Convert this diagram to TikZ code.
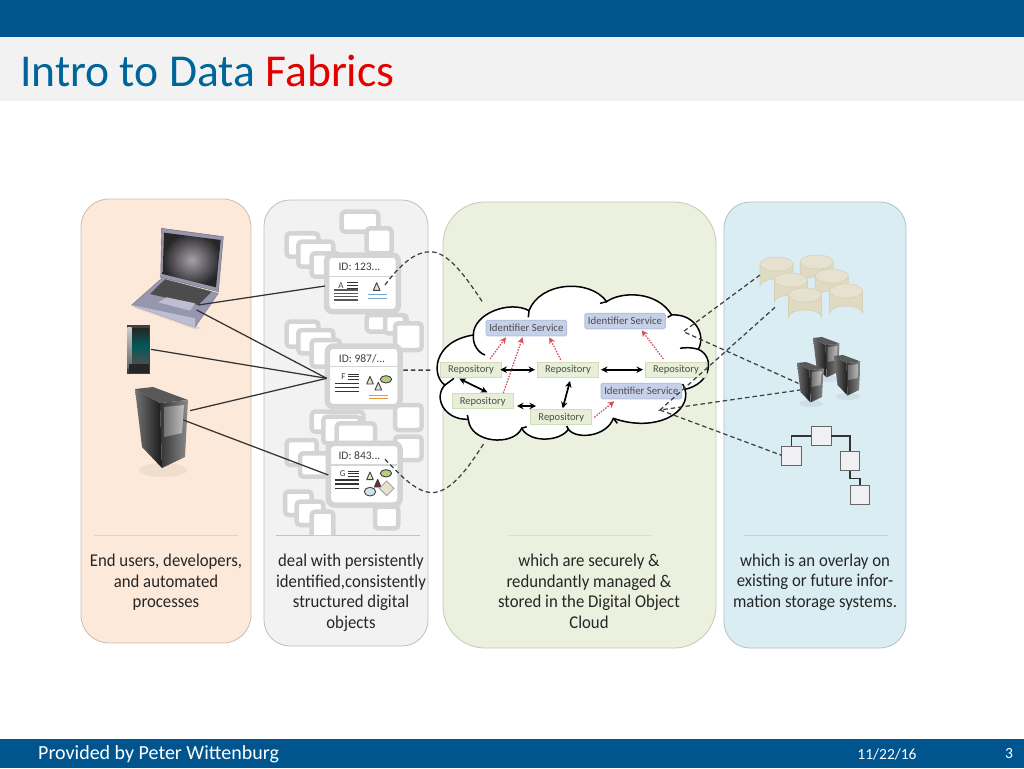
\documentclass[tikz,border=0pt]{standalone}
\usepackage{fontspec}
\setmainfont{Carlito}
\usetikzlibrary{arrows.meta,shapes.geometric}
\definecolor{bar}{HTML}{00558F}
\definecolor{titlebg}{HTML}{F2F2F2}
\definecolor{sqgray}{HTML}{D4D4D4}
\definecolor{repoF}{HTML}{E8EFD8}
\definecolor{repoD}{HTML}{D3DDB8}
\definecolor{idF}{HTML}{C6D0E8}
\definecolor{idD}{HTML}{B3C3DE}
\definecolor{dred}{HTML}{D8505C}
\definecolor{cylF}{HTML}{E0DAC3}
\definecolor{cylT}{HTML}{E7E2CF}
\definecolor{cylD}{HTML}{D6D0B8}
\definecolor{treeF}{HTML}{F0F0F2}
\definecolor{dkred}{RGB}{120,40,50}
\definecolor{ellG}{RGB}{180,205,130}
\definecolor{ellB}{RGB}{210,228,235}
\definecolor{lnB}{RGB}{120,165,210}
\definecolor{lnO}{RGB}{235,150,60}
\definecolor{pOF}{RGB}{252,233,218}
\definecolor{pOD}{RGB}{200,190,178}
\definecolor{pGF}{RGB}{242,242,242}
\definecolor{pGD}{RGB}{190,190,190}
\definecolor{pVF}{RGB}{235,241,222}
\definecolor{pVD}{RGB}{195,203,180}
\definecolor{pBF}{RGB}{218,237,243}
\definecolor{pBD}{RGB}{178,195,200}
\definecolor{sO}{RGB}{247,207,166}
\definecolor{sG}{RGB}{195,195,195}
\definecolor{sV}{RGB}{216,228,188}
\definecolor{sB}{RGB}{170,221,224}
\definecolor{lapBase}{RGB}{150,150,175}
\definecolor{lapLite}{RGB}{190,190,210}
\definecolor{lapScr}{RGB}{105,95,115}
\tikzset{
  panel/.style={rounded corners=#1,line width=0.8pt},
  captxt/.style={font=\fontsize{18}{20.5}\selectfont,align=center,text=black!85,inner sep=0,xscale=0.93},
  sepline/.style={line width=0.8pt},
  z1/.style={shift={(70,190)},x=0.33333pt,y=-0.33333pt},
  z2/.style={shift={(430,270)},x=0.33333pt,y=-0.33333pt},
  z3/.style={shift={(680,230)},x=0.33333pt,y=-0.33333pt},
  sq/.style={draw=sqgray,fill=white,line width=4.5pt,rounded corners=3.5pt},
  docbox/.style={draw=sqgray,fill=white,line width=5.5pt,rounded corners=6pt},
  idtext/.style={font=\fontsize{11.5}{12}\selectfont,text=black!75,inner sep=0,anchor=west},
  repo/.style={draw=repoD,fill=repoF,line width=1pt,minimum width=61pt,minimum height=15pt,inner sep=0,font=\fontsize{10.5}{12}\selectfont,text=black!70},
  idsvc/.style={draw=idD,fill=idF,line width=1pt,rounded corners=1.5pt,minimum width=80.5pt,minimum height=15.5pt,inner sep=0,font=\fontsize{10.8}{12}\selectfont,text=black!70},
  dblarrow/.style={{Stealth[length=6.5pt,width=6.5pt]}-{Stealth[length=6.5pt,width=6.5pt]},line width=1.7pt,black},
  redarrow/.style={-{Stealth[length=6.5pt,width=6.5pt]},dred,line width=1.3pt,dash pattern=on 1.5pt off 1.3pt},
  dashline/.style={dash pattern=on 4.5pt off 3pt,line width=1.25pt,black!75},
  solidline/.style={line width=1.25pt,black!80},
  tritop/.style={draw=black!75,fill=#1,line width=0.9pt,line join=round},
  treebox/.style={draw=black!60,fill=treeF,line width=0.8pt,minimum size=19.5pt,inner sep=0},
  txtline/.style={line width=0.9pt,black!80},
}
\newcommand{\sqr}[4]{\draw[sq] (#1,#2) rectangle (#3,#4);}
\newcommand{\trg}[3]{\draw[tritop=#3] (#1-10,#2+11) -- (#1,#2-12) -- (#1+10,#2+11) -- cycle;}
\newcommand{\cyl}[2]{%
  \draw[draw=cylD,fill=cylF,line width=0.6pt] (#1-16.5,#2) -- (#1-16.5,#2+22) arc[start angle=180,end angle=360,x radius=16.5,y radius=7] -- (#1+16.5,#2) -- cycle;
  \draw[draw=cylD,fill=cylT,line width=0.6pt] (#1,#2) ellipse[x radius=16.5,y radius=7];}
\begin{document}
\begin{tikzpicture}[x=1pt,y=-1pt]
\useasboundingbox (0,0) rectangle (1024,768);
\fill[white] (0,0) rectangle (1024,768);
% slide frame
\fill[bar] (0,0) rectangle (1024,37);
\fill[titlebg] (0,37) rectangle (1024,101);
\fill[bar] (0,739) rectangle (1024,768);
\node[anchor=west,inner sep=0,font=\fontsize{45.6}{48}\selectfont] (title) at (20,71) {\textcolor{bar!90!cyan}{Intro to Data} \textcolor{red!90!black}{Fabrics}};
\node[anchor=west,inner sep=0,text=white,font=\fontsize{20}{22}\selectfont] (foot) at (38,754) {Provided by Peter Wittenburg};
\node[inner sep=0,text=white,font=\fontsize{15.5}{16}\selectfont] (date) at (887,754) {11/22/16};
\node[inner sep=0,text=white,font=\fontsize{15.5}{16}\selectfont] (page) at (1009,754) {3};
% panels
\draw[panel=28pt,fill=pOF,draw=pOD] (81,199) rectangle (251,643);
\draw[panel=26pt,fill=pGF,draw=pGD] (264,200) rectangle (428,646);
\draw[panel=42pt,fill=pVF,draw=pVD] (443,202) rectangle (716,648);
\draw[panel=26pt,fill=pBF,draw=pBD] (724,202) rectangle (906,648);
% separators
\draw[sepline,draw=sO] (94,535) -- (238,535);
\draw[sepline,draw=sG] (276,535) -- (420,535);
\draw[sepline,draw=sV] (508,535) -- (652,535);
\draw[sepline,draw=sB] (744,535) -- (888,535);
% captions
\node[captxt] (c1) at (166,582.5) {End users, developers,\\and automated\\processes};
\node[captxt] (c2) at (351,593) {deal with persistently\\identified,consistently\\structured digital\\objects};
\node[captxt] (c3) at (589,591.5) {which are securely \&\\redundantly managed \&\\stored in the Digital Object\\Cloud};
\node[captxt] (c4) at (815,582) {which is an overlay on\\existing or future infor-\\mation storage systems.};
% digital objects
\begin{scope}[z1]
  \sqr{815}{65}{925}{125}\sqr{890}{115}{965}{190}
  \sqr{650}{130}{745}{200}\sqr{685}{155}{790}{230}\sqr{725}{190}{810}{260}
  \sqr{890}{375}{1010}{425}\sqr{945}{375}{1005}{430}\sqr{975}{400}{1055}{480}
  \sqr{650}{395}{745}{470}\sqr{685}{420}{790}{490}\sqr{725}{450}{810}{530}
  \sqr{725}{665}{880}{725}\sqr{760}{680}{870}{760}\sqr{800}{700}{915}{780}
  \sqr{975}{645}{1055}{720}\sqr{975}{740}{1055}{810}
  \sqr{650}{750}{740}{825}\sqr{690}{790}{790}{860}
  \sqr{645}{905}{725}{975}\sqr{680}{935}{760}{1005}
  \path[sq] (725,1035) -- (725,965) -- (790,965) -- (790,1035);
  \path[sq] (915,1015) -- (915,950) -- (985,950) -- (985,1015) -- cycle;
  % doc A
  \draw[docbox] (770,195) rectangle (985,365);
  \draw[sqgray,line width=1.2pt] (778,260) -- (977,260);
  \node[idtext] (idA) at (805,230) {ID: 123...};
  \node[inner sep=0,font=\fontsize{9}{10}\selectfont,text=black!75] (lA) at (813,288) {A};
  \foreach \yy in {278,286,294}{\draw[txtline] (832,\yy) -- (865,\yy);}
  \foreach \yy in {300,310,320,330}{\draw[txtline,line width=1.1pt,black!65] (793,\yy) -- (865,\yy);}
  \trg{920}{290}{cylT}
  \draw[line width=0.9pt,lnB] (893,312) -- (950,312) (893,325) -- (950,325);
  % doc F
  \draw[docbox] (772,468) rectangle (990,650);
  \draw[sqgray,line width=1.2pt] (780,530) -- (982,530);
  \node[idtext] (idF) at (806,507) {ID: 987/...};
  \node[inner sep=0,font=\fontsize{9}{10}\selectfont,text=black!75] (lF) at (820,560) {F};
  \foreach \yy in {552,560,568}{\draw[txtline] (835,\yy) -- (868,\yy);}
  \foreach \yy in {580,592,604}{\draw[txtline,line width=1.1pt] (795,\yy) -- (868,\yy);}
  \trg{900}{571}{cylT}\trg{925}{589}{cylT}
  \draw[draw=black!75,fill=ellG,line width=0.9pt] (948,568) ellipse[x radius=17,y radius=11];
  \draw[line width=0.9pt,lnO] (897,615) -- (953,615) (897,625) -- (953,625);
  % doc G
  \draw[docbox] (775,760) rectangle (990,945);
  \draw[sqgray,line width=1.2pt] (783,825) -- (982,825);
  \node[idtext] (idG) at (805,797) {ID: 843...};
  \node[inner sep=0,font=\fontsize{9}{10}\selectfont,text=black!75] (lG) at (818,850) {G};
  \foreach \yy in {843,851,859}{\draw[txtline] (834,\yy) -- (866,\yy);}
  \foreach \yy in {870,882,895}{\draw[txtline,line width=1.1pt] (795,\yy) -- (868,\yy);}
  \trg{900}{858}{cylT}\trg{923}{880}{dkred}
  \draw[draw=black!75,fill=ellG,line width=0.9pt] (948,850) ellipse[x radius=17,y radius=11];
  \draw[draw=black!75,fill=ellB,line width=0.9pt] (900,905) ellipse[x radius=17,y radius=13];
  \draw[draw=black!40,fill=cylT,line width=0.8pt] (950,873) -- (972,895) -- (950,917) -- (928,895) -- cycle;
  % named connector ends on documents
  \coordinate (inA) at (765,288);
  \coordinate (inF) at (770,565);
  \coordinate (inG) at (775,855);
  \coordinate (outA) at (945,285);
  \coordinate (outF) at (1000,540);
  \coordinate (outG) at (945,808);
\end{scope}
% laptop
\begin{scope}[z1]
  \fill[lapBase,opacity=0.25] (190,352) -- (375,418) -- (395,415) -- (260,345) -- cycle;
  \draw[draw=black!50,line join=round,fill=lapBase,line width=0.4pt] (185,345) -- (275,265) -- (445,310) -- (375,412) -- cycle;
  \fill[lapLite] (185,345) -- (375,385) -- (375,412) -- cycle;
  \fill[black!70] (240,312) -- (285,268) -- (425,305) -- (385,345) -- cycle;
  \fill[lapLite] (265,337) -- (290,322) -- (375,340) -- (360,362) -- cycle;
  \draw[draw=black!60,fill=lapBase] (275,115) -- (460,140) -- (445,305) -- (272,262) -- cycle;
  \shade[inner color=lapScr!60!white,outer color=black!85] (282,128) -- (452,150) -- (438,292) -- (278,252) -- cycle;
  % phone
  \fill[black!75] (170,405) rectangle (241,553);
  \shade[top color=black!85,bottom color=black!70,middle color=cyan!35!black] (183,415) rectangle (237,520);
  \shade[top color=black!20,bottom color=black!60] (172,412) rectangle (185,535);
  \fill[black!85] (177,522) rectangle (237,548);
  \coordinate (lapA) at (385,345);
  \coordinate (lapB) at (380,360);
  \coordinate (phone) at (243,478);
  \coordinate (towA) at (360,662);
  \coordinate (towB) at (340,690);
\end{scope}
% tower and servers
\foreach \ox/\oy/\sc in {135/387/1, 813/337/0.5, 834/355/0.5, 797/362/0.5}{
  \begin{scope}[shift={(\ox,\oy)},x=\sc pt,y=-\sc pt]
    \fill[black,opacity=0.05] (28,83) ellipse[x radius=24,y radius=7];
    \shade[left color=black!55,right color=black!90] (0,2) -- (25,16) -- (27,81) -- (7,60) -- cycle;
    \fill[black!65] (0,2) -- (18,0) -- (53,13) -- (25,16) -- cycle;
    \shade[left color=black!80,right color=black!45] (25,16) -- (53,13) -- (50,70) -- (27,81) -- cycle;
    \shade[left color=black!55,right color=black!25] (29,20) -- (49,18) -- (47,46) -- (29,50) -- cycle;
  \end{scope}
}
% connectors on the left
\draw[solidline] (lapA) -- (inA);
\draw[solidline] (lapB) -- (inF);
\draw[solidline] (phone) -- (inF);
\draw[solidline] (towA) -- (inF);
\draw[solidline] (towB) -- (inG);
% cloud
\begin{scope}[z2]
  \draw[fill=white,line width=1.5pt,draw=black] (45,345) .. controls (5,320) and (5,215) .. (130,195)
   .. controls (130,130) and (240,90) .. (297,122)
   .. controls (330,35) and (480,25) .. (530,95)
   .. controls (570,65) and (680,60) .. (725,135)
   .. controls (790,130) and (830,190) .. (805,238)
   .. controls (855,260) and (845,340) .. (765,358)
   .. controls (785,425) and (680,490) .. (550,445)
   .. controls (530,500) and (440,510) .. (415,478)
   .. controls (390,515) and (300,520) .. (275,475)
   .. controls (250,530) and (120,520) .. (115,448)
   .. controls (40,450) and (10,380) .. (45,345) -- cycle;
  \draw[line width=1.5pt,draw=black] (130,195) .. controls (128,225) and (145,248) .. (165,255)
    (297,122) -- (295,142) (530,95) -- (510,100) (725,135) -- (713,142)
    (805,238) .. controls (785,232) and (765,232) .. (750,235)
    (765,358) -- (758,342) (550,445) -- (562,460) (415,478) -- (410,468)
    (275,475) -- (290,470) (115,448) -- (112,435) (45,345) -- (72,325);
  \node[repo] (R1) at (123,299) {Repository};
  \node[repo] (R2) at (414,299) {Repository};
  \node[repo] (R3) at (738,299) {Repository};
  \node[repo] (R4) at (158,394) {Repository};
  \node[repo] (R5) at (394,442) {Repository};
  \node[idsvc] (I1) at (289,174) {Identifier Service};
  \node[idsvc] (I2) at (585,153) {Identifier Service};
  \node[idsvc] (I3) at (634,363) {Identifier Service};
  \draw[dblarrow] (R1.east) ++(-5,0) -- ([xshift=-2pt]R2.west);
  \draw[dblarrow] ([xshift=2pt]R2.east) -- ([xshift=-2pt]R3.west);
  \draw[dblarrow] ([shift={(-35,3)}]R1.south) -- ([shift={(14,-3)}]R4.north);
  \draw[dblarrow] ([shift={(10,14)}]R4.east) -- ([shift={(17,-34)}]R5.west);
  \draw[dblarrow] ([shift={(6,10)}]R2.south) -- ([shift={(4,-3)}]R5.north);
  \draw[redarrow] ([shift={(57,-8)}]R1.north) -- ([shift={(-61,3)}]I1.south);
  \draw[redarrow] ([shift={(62,-1)}]R4.north) -- ([shift={(-11,3)}]I1.south);
  \draw[redarrow] ([shift={(-22,-6)}]R2.north) -- ([shift={(69,3)}]I1.south);
  \draw[redarrow] ([shift={(-38,-8)}]R3.north) -- ([shift={(50,3)}]I2.south);
  \draw[redarrow] ([xshift=2pt]R5.east) -- ([shift={(-81,6)}]I3.south);
  \coordinate (cloudA) at (160,100);
  \coordinate (cloudF) at (5,300);
  \coordinate (cloudG) at (165,515);
\end{scope}
% storage
\begin{scope}
  \cyl{776.5}{264}\cyl{816.7}{262}\cyl{791}{280}\cyl{831.7}{276}\cyl{805}{295}\cyl{846}{291}
\end{scope}
\begin{scope}[z3]
  \node[treebox] (T1) at (424,618) {};
  \node[treebox] (T2) at (334,677) {};
  \node[treebox] (T3) at (510,692) {};
  \node[treebox] (T4) at (540,795) {};
  \draw[line width=1.1pt,black!80] (T1.west) -| (T2.north);
  \draw[line width=1.1pt,black!80] (T1.east) -| (T3.north);
  \draw[line width=1.1pt,black!80] (T3.south) |- (525,745) -| (T4.north);
  \coordinate (cylL) at (240,135);
  \coordinate (cylB) at (285,232);
  \coordinate (srvA) at (355,460);
  \coordinate (srvB) at (360,480);
  \coordinate (treeIn) at (305,676);
  \coordinate (hubA) at (10,305);
\end{scope}
\begin{scope}[z2]
  \coordinate (hubB) at (690,420);
\end{scope}
% dashed connectors
\draw[dashline] (outA) .. controls (402,262) and (418,250) .. (433,252) .. controls (450,254) and (468,280) .. (cloudA);
\draw[dashline,line width=1.5pt] (outF) -- (cloudF);
\draw[dashline] (outG) .. controls (403,478) and (420,496) .. (437,492) .. controls (455,488) and (472,462) .. (cloudG);
\draw[dashline] (cylL) -- (hubA) -- (srvA);
\draw[dashline] (cylB) -- (hubB) -- (srvB);
\draw[dashline] (hubB) -- (treeIn);
\end{tikzpicture}
\end{document}
